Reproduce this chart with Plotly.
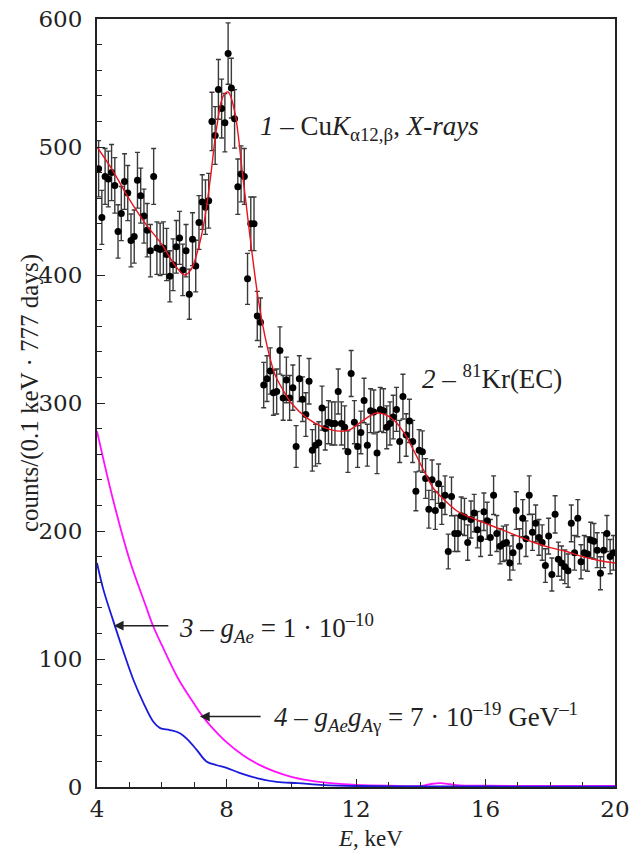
import plotly.graph_objects as go

# ---- measured spectrum (0.1 keV bins) ----
energy_start = 4.05
bin_width = 0.1
counts = [
    483, 445, 477, 475, 480, 470, 434, 448, 473, 464,
    427, 430, 474, 462, 446, 435, 419, 477, 421, 420,
    421, 416, 399, 408, 422, 429, 404, 419, 385, 428,
    407, 441, 457, 453, 458, 520, 509, 545, 530, 519,
    573, 546, 522, 469, 479, 477, 397, 440, 440, 368,
    363, 314, 319, 325, 308, 309, 341, 304, 318, 304,
    312, 266, 319, 303, 291, 317, 263, 267, 269, 296,
    280, 285, 284, 284, 309, 284, 281, 262, 323, 285,
    266, 277, 302, 267, 294, 293, 261, 295, 294, 281,
    284, 289, 295, 270, 305, 275, 286, 270, 231, 263,
    262, 241, 217, 240, 216, 237, 220, 228, 184, 227,
    198, 198, 212, 211, 191, 209, 214, 201, 194, 215,
    208, 195, 228, 198, 188, 190, 191, 175, 183, 216,
    188, 210, 194, 228, 199, 206, 195, 191, 173, 196,
    166, 213, 178, 175, 172, 169, 206, 183, 210, 176,
    183, 182, 193, 192, 185, 167, 185, 198, 180, 183,
]
energy = [round(energy_start + bin_width * i, 2) for i in range(len(counts))]
errors = [c ** 0.5 for c in counts]

# ---- fit curve (red) ----
fit_E = [4.0, 4.5, 5.0, 5.5, 6.0, 6.4, 6.7, 6.9, 7.1, 7.3, 7.5, 7.7, 7.9, 8.05,
         8.25, 8.5, 8.75, 9.0, 9.25, 9.5, 9.75, 10.0, 10.5, 11.0, 11.5, 11.8,
         12.2, 12.6, 12.9, 13.2, 13.5, 13.8, 14.1, 14.4, 14.7, 15.1, 15.5,
         16.0, 16.5, 17.0, 17.5, 18.0, 18.5, 19.0, 19.5, 20.0]
fit_C = [500, 481, 459, 440, 424, 408, 400, 404, 418, 440, 475, 516, 540, 543,
         528, 478, 425, 378, 345, 322, 310, 300, 288, 281, 278, 279,
         286, 292, 291, 286, 276, 262, 247, 233, 225, 216, 211,
         206, 201, 196, 191, 187, 184, 180, 177, 175]

# ---- curve 3 (blue): g_Ae = 1e-10 ----
c3_E = [4.0, 4.2, 4.5, 4.8, 5.12, 5.43, 5.74, 5.95, 6.25, 6.56, 6.8, 7.08,
        7.38, 7.7, 8.0, 8.4, 8.93, 9.55, 10.2, 11.0, 12.0, 14.0, 16.0, 18.0, 20.0]
c3_C = [175, 154, 130, 107, 84, 66, 51, 46, 44.5, 42, 37, 29,
        20, 17, 15, 11, 7, 4, 3, 1.5, 0.8, 0.5, 0.4, 0.3, 0.3]

# ---- curve 4 (magenta): g_Ae*g_Agamma = 7e-19 GeV^-1 ----
c4_E = [4.0, 4.5, 5.0, 5.5, 5.73, 6.0, 6.5, 7.0, 7.27, 7.5, 8.0, 8.5, 9.0,
        9.5, 10.0, 10.5, 11.0, 11.5, 12.0, 13.0, 14.0, 14.3, 14.6, 14.9, 15.2,
        16.0, 18.0, 20.0]
c4_C = [278, 224, 178, 142, 126, 111, 85, 65, 55, 48, 35, 25, 17.5,
        12, 8, 5.4, 3.6, 2.4, 1.6, 1.0, 0.9, 2.3, 3.0, 2.2, 1.2,
        1.0, 0.8, 0.8]

FONT = "Liberation Serif"
TICK_FONT = "DejaVu Serif"

# page body has an 8 px margin; the figure is sized so the plot area lands where the reference has it
L, R, T, B = 89, 26, 11, 66
W, H = 633, 845
PW, PH = W - L - R, H - T - B

fig = go.Figure()

fig.add_trace(go.Scatter(
    x=c4_E, y=c4_C, mode="lines", line=dict(color="#ff10ff", width=1.8, shape="spline"),
    showlegend=False, hoverinfo="skip"))
fig.add_trace(go.Scatter(
    x=c3_E, y=c3_C, mode="lines", line=dict(color="#1a1adc", width=1.8, shape="spline"),
    showlegend=False, hoverinfo="skip"))
fig.add_trace(go.Scatter(
    x=energy, y=counts, mode="markers",
    marker=dict(color="black", size=7),
    error_y=dict(type="data", array=errors, visible=True, color="#3a3a3a",
                 thickness=1.4, width=2.5),
    showlegend=False))
fig.add_trace(go.Scatter(
    x=fit_E, y=fit_C, mode="lines", line=dict(color="#e8141e", width=1.4, shape="spline"),
    showlegend=False, hoverinfo="skip"))

ann_font = dict(family=FONT, size=27, color="#222")
annotations = [
    dict(x=8.97, y=515, xref="x", yref="y", xanchor="left", yanchor="middle",
         text="<i>1</i> – Cu<i>K</i><sub>α12,β</sub>, <i>X-rays</i>", showarrow=False, font=ann_font),
    dict(x=13.98, y=320, xref="x", yref="y", xanchor="left", yanchor="middle",
         text="<i>2</i> – <sup>81</sup>Kr(EC)", showarrow=False, font=ann_font),
    dict(x=6.47, y=124, xref="x", yref="y", xanchor="left", yanchor="middle",
         text="<i>3</i> – <i>g</i><sub><i>Ae</i></sub> = 1 · 10<sup>–10</sup>", showarrow=False, font=ann_font),
    dict(x=9.4, y=55, xref="x", yref="y", xanchor="left", yanchor="middle",
         text="<i>4</i> – <i>g</i><sub><i>Ae</i></sub><i>g</i><sub><i>A</i>γ</sub> = 7 · 10<sup>–19</sup> GeV<sup>–1</sup>",
         showarrow=False, font=ann_font),
    dict(x=4.52, y=126, ax=6.25, ay=126, xref="x", yref="y", axref="x", ayref="y",
         text="", showarrow=True, arrowhead=2, arrowsize=1.3, arrowwidth=1.5, arrowcolor="#222"),
    dict(x=7.18, y=55, ax=9.1, ay=55, xref="x", yref="y", axref="x", ayref="y",
         text="", showarrow=True, arrowhead=2, arrowsize=1.3, arrowwidth=1.5, arrowcolor="#222"),
    # axis titles
    dict(x=(22 - L) / PW, y=1 - (385 - T) / PH, xref="paper", yref="paper",
         xanchor="center", yanchor="middle", textangle=-90, showarrow=False,
         text="counts/(0.1 keV · 777 days)", font=dict(family=FONT, size=25, color="#222")),
    dict(x=(362 - L) / PW, y=1 - (830 - T) / PH, xref="paper", yref="paper",
         xanchor="center", yanchor="middle", showarrow=False,
         text="<i>E</i>, keV", font=dict(family=FONT, size=23, color="#222")),
]

fig.update_layout(
    width=W, height=H,
    margin=dict(l=L, r=R, t=T, b=B),
    paper_bgcolor="white", plot_bgcolor="white",
    font=dict(family=FONT, size=20, color="#222"),
    annotations=annotations,
    xaxis=dict(
        range=[4, 20], tickvals=[4, 8, 12, 16, 20], ticks="inside", ticklen=8,
        tickwidth=1.3, tickcolor="#222", automargin=False, ticklabeloverflow="allow",
        minor=dict(dtick=1, ticks="inside", ticklen=5, tickwidth=1.1, tickcolor="#222"),
        showline=True, linecolor="#222", linewidth=2, mirror=True,
        showgrid=False, zeroline=False,
        tickfont=dict(family=TICK_FONT, size=23, color="#222"),
    ),
    yaxis=dict(
        range=[0, 600], tickvals=[0, 100, 200, 300, 400, 500, 600], ticks="inside", ticklen=8,
        tickwidth=1.3, tickcolor="#222", automargin=False, ticklabeloverflow="allow",
        ticklabelstandoff=8,
        minor=dict(dtick=20, ticks="inside", ticklen=5, tickwidth=1.1, tickcolor="#222"),
        showline=True, linecolor="#222", linewidth=2, mirror=True,
        showgrid=False, zeroline=False,
        tickfont=dict(family=TICK_FONT, size=23, color="#222"),
    ),
)

fig.write_html("out.html")
